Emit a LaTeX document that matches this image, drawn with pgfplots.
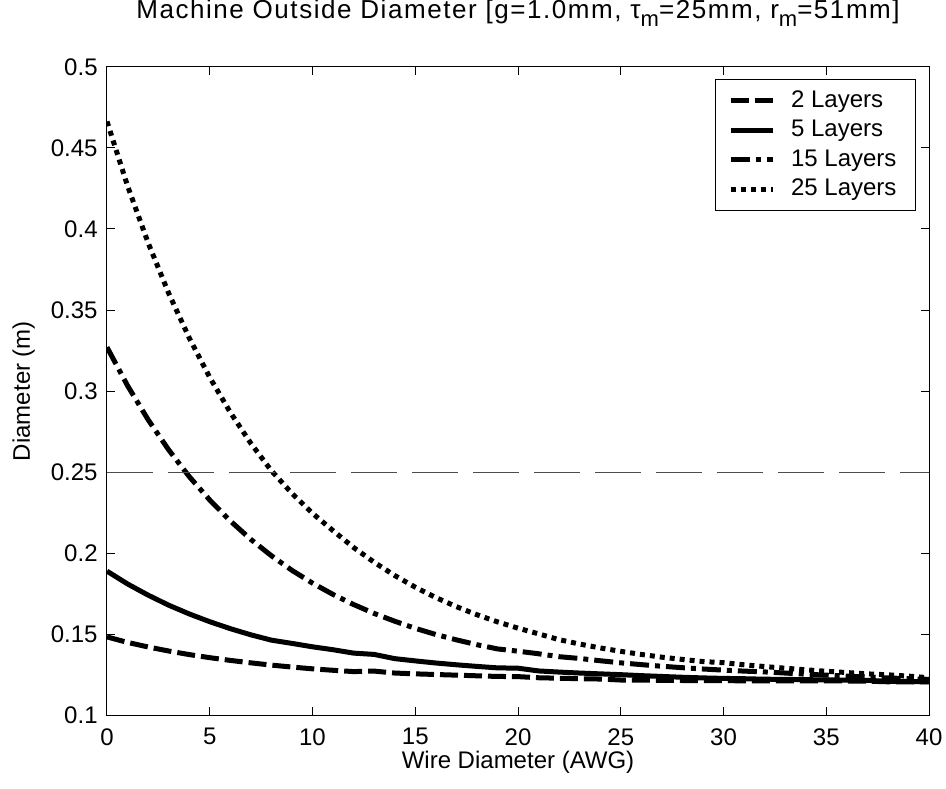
\documentclass[border=0pt]{standalone}
\usepackage{pgfplots}
\pgfplotsset{compat=1.18}
\usepackage{fontspec}
\setmainfont{Liberation Sans}
\newfontfamily\titlefont[LetterSpace=6]{Liberation Sans}
\newcommand{\sub}[1]{\raisebox{-4.2pt}{\fontsize{11}{12}\selectfont #1}}
\begin{document}
\begin{tikzpicture}
\useasboundingbox (-53.5pt,-36.5pt) rectangle (419.5pt,357.5pt);
\begin{axis}[
  at={(0,0)}, anchor=south west,
  scale only axis, width=411pt, height=324pt,
  xmin=0, xmax=40, ymin=0.1, ymax=0.5,
  xtick={0,5,10,15,20,25,30,35,40},
  xticklabels={0,5,10,15,20,25,30,35,40},
  ytick={0.1,0.15,0.2,0.25,0.3,0.35,0.4,0.45,0.5},
  yticklabels={0.1,0.15,0.2,0.25,0.3,0.35,0.4,0.45,0.5},
  tick align=inside, major tick length=4pt,
  axis line style={line width=0.5pt},
  every tick/.style={black, line width=0.5pt},
  font=\fontsize{12}{14}\selectfont,
  xticklabel style={anchor=north, inner sep=0pt, yshift=-6.5pt},
  yticklabel style={anchor=east, inner sep=0pt, xshift=-4.5pt},
  xlabel={Wire Diameter (AWG)},
  xlabel style={at={(axis description cs:0.5,-0.0818)}, anchor=base, inner sep=0pt},
  ylabel={Diameter (m)},
  ylabel style={at={(axis description cs:-0.0937,0.5)}, anchor=base, inner sep=0pt},
  title={Machine Outside Diameter [g=1.0mm, τ\sub{m}=25mm, r\sub{m}=51mm]},
  title style={at={(axis description cs:0.5,1.0565)}, anchor=base, inner sep=0pt, font=\titlefont\fontsize{13}{15}\selectfont},
  legend style={at={(rel axis cs:0.9842,0.9815)}, anchor=north east, draw=black, line width=0.5pt, fill=white,
    inner xsep=6.5pt, inner ysep=4.8pt, row sep=3.3pt,
    nodes={inner sep=0pt, text height=9pt, text depth=2.5pt},
    font=\fontsize{12}{14}\selectfont,
    /tikz/every odd column/.append style={column sep=8pt}},
  legend cell align=left,
  legend image code/.code={\draw[#1] (0pt,0pt) -- (21pt,0pt);},
]
% 2 Layers
\addplot[black, line width=2.5pt, dash pattern=on 9pt off 3pt] coordinates {
(0,0.1482) (1,0.1448) (2,0.1420) (3,0.1395) (4,0.1373) (5,0.1354) (6,0.1337) (7,0.1322) (8,0.1308) (9,0.1296) (10,0.1285)
(11,0.1276) (12,0.1268) (13,0.1271) (14,0.1259) (15,0.1254) (16,0.1250) (17,0.1246) (18,0.1242) (19,0.1238) (20,0.1237)
(21,0.1230) (22,0.1227) (23,0.1224) (24,0.1222) (25,0.1216) (26,0.1215) (27,0.1214) (28,0.1213) (29,0.1212) (30,0.1212)
(31,0.1211) (32,0.1211) (33,0.1210) (34,0.1210) (35,0.1210) (36,0.1210) (37,0.1209) (38,0.1205) (39,0.1205) (40,0.1204)
};
\addlegendentry{2 Layers\hspace*{3pt}}
% 5 Layers
\addplot[black, line width=2.5pt, line join=round] coordinates {
(0,0.1888) (1,0.1809) (2,0.1740) (3,0.1678) (4,0.1624) (5,0.1576) (6,0.1533) (7,0.1495) (8,0.1462) (9,0.1442) (10,0.1421)
(11,0.1403) (12,0.1382) (13,0.1374) (14,0.1348) (15,0.1334) (16,0.1321) (17,0.1310) (18,0.1300) (19,0.1291) (20,0.1289)
(21,0.1272) (22,0.1265) (23,0.1259) (24,0.1254) (25,0.1249) (26,0.1243) (27,0.1238) (28,0.1233) (29,0.1229) (30,0.1226)
(31,0.1224) (32,0.1221) (33,0.1220) (34,0.1218) (35,0.1217) (36,0.1215) (37,0.1214) (38,0.1208) (39,0.1207) (40,0.1206)
};
\addlegendentry{5 Layers\hspace*{3pt}}
% 15 Layers
\addplot[black, line width=2.5pt, dash pattern=on 9.5pt off 3pt on 2.5pt off 3pt] coordinates {
(0,0.3270) (1,0.3033) (2,0.2823) (3,0.2637) (4,0.2472) (5,0.2327) (6,0.2198) (7,0.2084) (8,0.1983) (9,0.1893) (10,0.1814)
(11,0.1744) (12,0.1682) (13,0.1627) (14,0.1579) (15,0.1535) (16,0.1497) (17,0.1464) (18,0.1434) (19,0.1408) (20,0.1394)
(21,0.1378) (22,0.1360) (23,0.1349) (24,0.1335) (25,0.1322) (26,0.1311) (27,0.1301) (28,0.1292) (29,0.1284) (30,0.1277)
(31,0.1271) (32,0.1266) (33,0.1259) (34,0.1252) (35,0.1246) (36,0.1240) (37,0.1234) (38,0.1229) (39,0.1224) (40,0.1220)
};
\addlegendentry{15 Layers\hspace*{3pt}}
% 25 Layers
\addplot[black, line width=2.5pt, dash pattern=on 2.5pt off 2.5pt] coordinates {
(0,0.4664) (1,0.4266) (2,0.3915) (3,0.3604) (4,0.3328) (5,0.3084) (6,0.2868) (7,0.2677) (8,0.2508) (9,0.2368) (10,0.2245)
(11,0.2138) (12,0.2034) (13,0.1943) (14,0.1861) (15,0.1789) (16,0.1725) (17,0.1669) (18,0.1619) (19,0.1575) (20,0.1536)
(21,0.1501) (22,0.1465) (23,0.1438) (24,0.1414) (25,0.1393) (26,0.1374) (27,0.1357) (28,0.1343) (29,0.1330) (30,0.1323)
(31,0.1310) (32,0.1299) (33,0.1289) (34,0.1279) (35,0.1270) (36,0.1262) (37,0.1254) (38,0.1248) (39,0.1240) (40,0.1230)
};
\addlegendentry{25 Layers\hspace*{3pt}}
% reference line
\addplot[black!70, line width=0.5pt, dash pattern=on 23pt off 7.5pt, forget plot] coordinates {(0,0.25) (40,0.25)};
\end{axis}
\end{tikzpicture}
\end{document}
